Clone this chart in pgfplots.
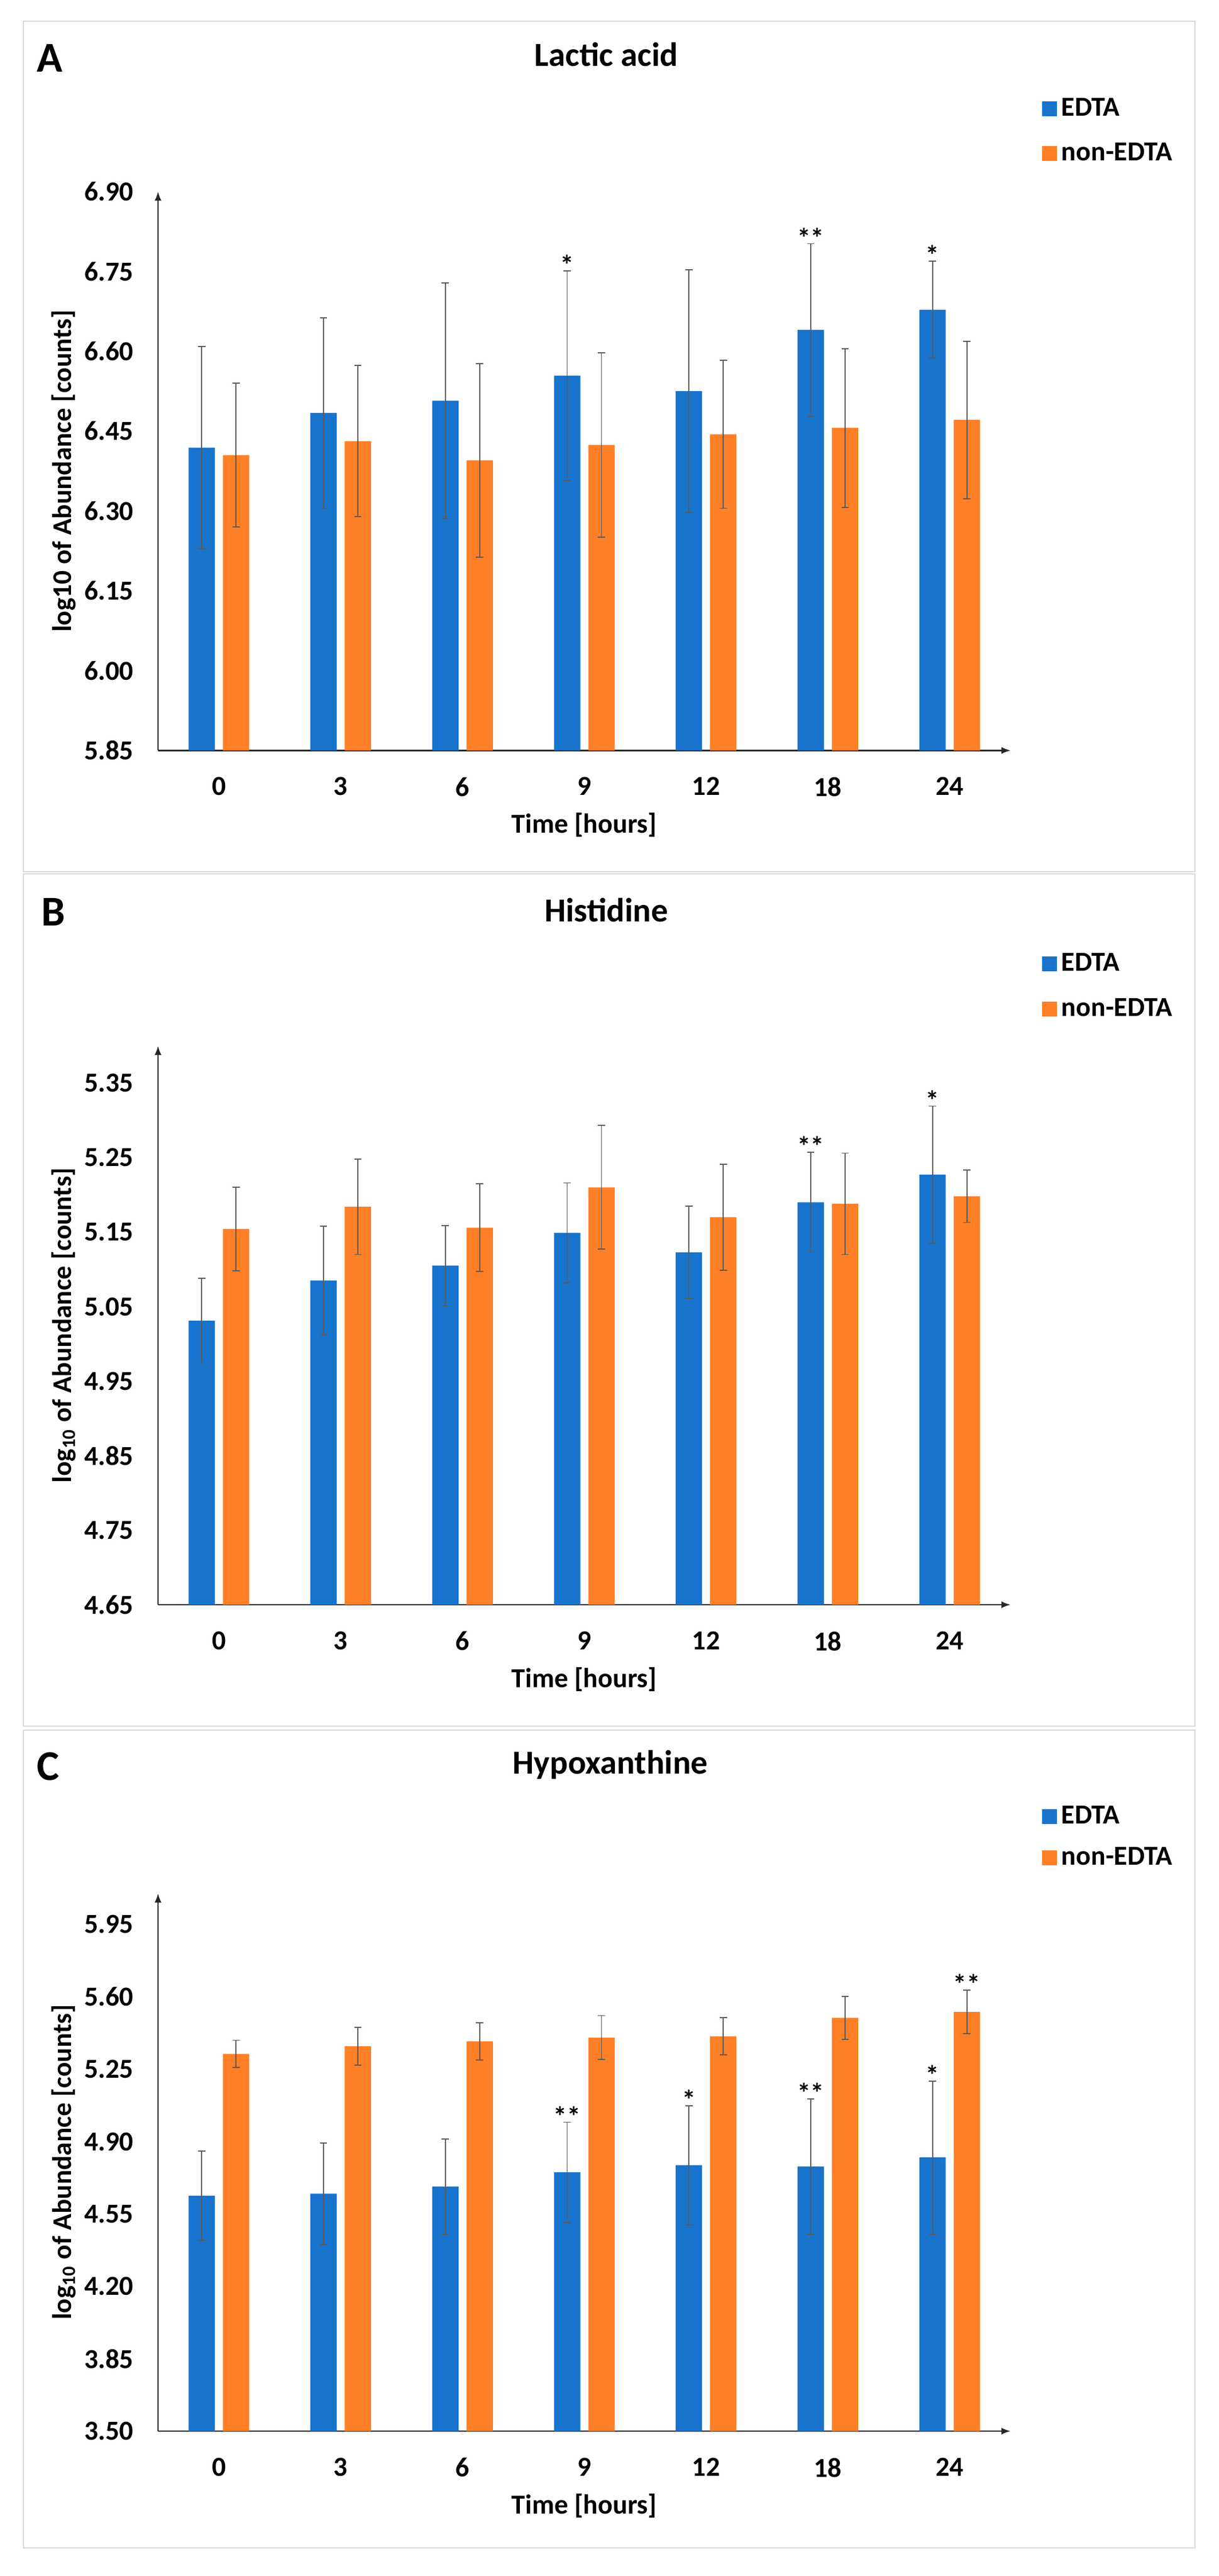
\documentclass[border=0pt]{standalone}
\usepackage{fontspec}
\setmainfont{Carlito}
\usepackage{pgfplots}
\pgfplotsset{compat=1.18}
\usetikzlibrary{arrows.meta}
\definecolor{cblue}{RGB}{24,115,204}
\definecolor{corange}{RGB}{255,127,39}
\definecolor{framegray}{RGB}{217,217,217}
\definecolor{errgray}{RGB}{90,90,90}

\pgfplotsset{
  panel/.style={
    scale only axis, width=372.25pt,
    xmin=-0.5, xmax=6.5,
    axis lines=left,
    axis line style={line width=0.6pt, black!85, -{Latex[length=4pt,width=3pt]}},
    xtick={0,...,6}, xticklabels={0,3,6,9,12,18,24},
    major tick length=0pt,
    tick label style={font=\fontsize{12}{14}\selectfont\bfseries},
    /pgf/number format/assume math mode=true,
    yticklabel style={/pgf/number format/fixed, /pgf/number format/fixed zerofill, /pgf/number format/precision=2, xshift=-7.2pt},
    xticklabel style={yshift=-8.2pt},
    ybar, bar width=11.5pt,
    every axis x label/.style={at={(axis description cs:0.5,0)}, anchor=center, yshift=-32.6pt, font=\fontsize{12}{14}\selectfont\bfseries},
    every axis y label/.style={at={([xshift=-41.25pt]axis description cs:0,0.5)}, rotate=90, anchor=center, font=\bfseries\fontsize{11.8}{13}\selectfont},
    xlabel={Time [hours]},
    legend cell align=left,
    legend image code/.code={\fill[##1] (0pt,-3.25pt) rectangle (6.5pt,3.25pt);},
    legend style={draw=none, fill=none, inner sep=0pt, row sep=6.3pt, anchor=north west,
      font=\fontsize{12}{14}\selectfont\bfseries},
    clip=true,
  },
  edta/.style={fill=cblue, draw=none, bar shift=-7.5pt,
    error bars/.cd, y dir=both, y explicit,
    error bar style={line width=0.45pt, errgray},
    error mark options={rotate=90, mark size=1.6pt, line width=0.45pt, errgray}},
  nonedta/.style={fill=corange, draw=none, bar shift=7.5pt,
    error bars/.cd, y dir=both, y explicit,
    error bar style={line width=0.45pt, errgray},
    error mark options={rotate=90, mark size=1.6pt, line width=0.45pt, errgray}},
  stars/.style={draw=none, fill=none, forget plot, nodes near coords,
    point meta=explicit symbolic,
    nodes near coords style={inner sep=0pt, yshift=-1.9pt, font=\fontsize{12}{14}\selectfont\bfseries, black}},
}

\begin{document}
\begin{tikzpicture}
\path[use as bounding box] (0pt,0pt) rectangle (532.25pt,-1124.5pt);
\draw[framegray, line width=0.5pt] (10.25pt,-9.25pt) rectangle (521.75pt,-380.5pt);
\draw[framegray, line width=0.5pt] (10.25pt,-381.5pt) rectangle (521.75pt,-753.5pt);
\draw[framegray, line width=0.5pt] (10.25pt,-755.25pt) rectangle (521.75pt,-1112.25pt);

\node[anchor=base west, font=\fontsize{18.5}{20}\selectfont\bfseries, inner sep=0pt] at (16pt,-31.25pt) {A};
\node[anchor=base, font=\fontsize{14.7}{16}\selectfont\bfseries, inner sep=0pt] at (264.75pt,-28.75pt) {Lactic acid};
\node[anchor=base west, font=\fontsize{18.5}{20}\selectfont\bfseries, inner sep=0pt] at (17.9pt,-404.2pt) {B};
\node[anchor=base, font=\fontsize{14.7}{16}\selectfont\bfseries, inner sep=0pt] at (264.75pt,-402.25pt) {Histidine};
\node[anchor=base west, font=\fontsize{18.5}{20}\selectfont\bfseries, inner sep=0pt] at (16pt,-777pt) {C};
\node[anchor=base, font=\fontsize{14.7}{16}\selectfont\bfseries, inner sep=0pt] at (266.5pt,-774.4pt) {Hypoxanthine};

% Panel A
\begin{axis}[panel, at={(69pt,-327.6pt)}, anchor=south west, height=244pt,
  ymin=5.85, ymax=6.90, ytick={5.85,6.00,6.15,6.30,6.45,6.60,6.75,6.90},
  ylabel={log10 of Abundance [counts]},
  legend style={at={(axis description cs:1.0363,1.1760)}}]
\addplot[edta] coordinates {(0,6.419) +- (0,0.190) (1,6.484) +- (0,0.179) (2,6.507) +- (0,0.221) (3,6.554) +- (0,0.197) (4,6.525) +- (0,0.228) (5,6.640) +- (0,0.162) (6,6.678) +- (0,0.091)};
\addplot[nonedta] coordinates {(0,6.405) +- (0,0.135) (1,6.431) +- (0,0.142) (2,6.395) +- (0,0.182) (3,6.424) +- (0,0.173) (4,6.444) +- (0,0.139) (5,6.456) +- (0,0.149) (6,6.471) +- (0,0.148)};
\addplot[stars, bar shift=-7.5pt] coordinates {(3,6.751) [*] (5,6.802) [**] (6,6.770) [*]};
\legend{EDTA, non-EDTA}
\end{axis}

% Panel B
\begin{axis}[panel, at={(69pt,-700.5pt)}, anchor=south west, height=244pt,
  ymin=4.65, ymax=5.40, ytick={4.65,4.75,4.85,4.95,5.05,5.15,5.25,5.35},
  ylabel={log$_{\mathbf{10}}$ of Abundance [counts]},
  legend style={at={(axis description cs:1.0363,1.1744)}}]
\addplot[edta] coordinates {(0,5.031) +- (0,0.057) (1,5.085) +- (0,0.073) (2,5.105) +- (0,0.054) (3,5.149) +- (0,0.067) (4,5.123) +- (0,0.062) (5,5.190) +- (0,0.067) (6,5.227) +- (0,0.092)};
\addplot[nonedta] coordinates {(0,5.154) +- (0,0.056) (1,5.184) +- (0,0.064) (2,5.156) +- (0,0.059) (3,5.210) +- (0,0.083) (4,5.170) +- (0,0.071) (5,5.188) +- (0,0.068) (6,5.198) +- (0,0.035)};
\addplot[stars, bar shift=-7.5pt] coordinates {(5,5.257) [**] (6,5.319) [*]};
\legend{EDTA, non-EDTA}
\end{axis}

% Panel C
\begin{axis}[panel, at={(69pt,-1061.25pt)}, anchor=south west, height=234.75pt,
  ymin=3.50, ymax=6.10, ytick={3.50,3.85,4.20,4.55,4.90,5.25,5.60,5.95},
  ylabel={log$_{\mathbf{10}}$ of Abundance [counts]},
  legend style={at={(axis description cs:1.0363,1.1720)}, row sep=4.8pt}]
\addplot[edta] coordinates {(0,4.638) +- (0,0.216) (1,4.648) +- (0,0.245) (2,4.683) +- (0,0.230) (3,4.751) +- (0,0.243) (4,4.786) +- (0,0.288) (5,4.780) +- (0,0.327) (6,4.823) +- (0,0.370)};
\addplot[nonedta] coordinates {(0,5.324) +- (0,0.066) (1,5.361) +- (0,0.092) (2,5.385) +- (0,0.090) (3,5.403) +- (0,0.106) (4,5.409) +- (0,0.090) (5,5.498) +- (0,0.103) (6,5.527) +- (0,0.106)};
\addplot[stars, bar shift=-7.5pt] coordinates {(3,4.994) [**] (4,5.074) [*] (5,5.107) [**] (6,5.193) [*]};
\addplot[stars, bar shift=7.5pt] coordinates {(6,5.633) [**]};
\legend{EDTA, non-EDTA}
\end{axis}
\end{tikzpicture}
\end{document}
